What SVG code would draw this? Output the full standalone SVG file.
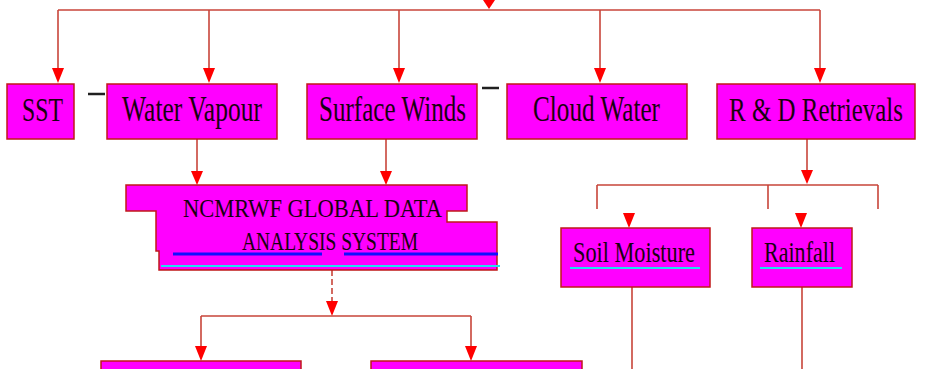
<svg xmlns="http://www.w3.org/2000/svg" width="925" height="369" viewBox="0 0 925 369">
<defs>
<style>
.box{fill:#ff00ff;stroke:#c01818;stroke-width:1.5}
.lbl{font-family:"Liberation Serif","Times New Roman",serif;fill:#1a0010;text-anchor:start}
.c{fill:none;stroke:#c8453a;stroke-width:1.6}
.ar{fill:#ff0000}
</style>
</defs>
<rect width="925" height="369" fill="#ffffff"/>
<g id="connectors">
<polygon class="ar" points="483,0 495,0 489,9"/>
<path class="c" d="M58,10 H820"/>
<path class="c" d="M58,10 V70"/><polygon class="ar" points="52,68 64,68 58,83"/>
<path class="c" d="M209,10 V70"/><polygon class="ar" points="203,68 215,68 209,83"/>
<path class="c" d="M399,10 V70"/><polygon class="ar" points="393,68 405,68 399,83"/>
<path class="c" d="M600,10 V70"/><polygon class="ar" points="594,68 606,68 600,83"/>
<path class="c" d="M820,10 V70"/><polygon class="ar" points="814,68 826,68 820,83"/>
<path class="c" d="M197,139 V172"/><polygon class="ar" points="191,171 203,171 197,185"/>
<path class="c" d="M386,139 V172"/><polygon class="ar" points="380,171 392,171 386,185"/>
<path class="c" d="M807,139 V172"/><polygon class="ar" points="801,170 813,170 807,184"/>
<path class="c" d="M597,185 H878 M597,185 V209 M768,185 V209 M878,185 V209"/>
<polygon class="ar" points="623,213 635,213 629,228"/>
<polygon class="ar" points="795,213 807,213 801,228"/>
<path class="c" d="M332,270 V304" stroke-dasharray="6,3"/>
<polygon class="ar" points="326,301 338,301 332,316"/>
<path class="c" d="M201,316 H471 M201,316 V348 M471,316 V348"/>
<polygon class="ar" points="195,346 207,346 201,361"/>
<polygon class="ar" points="465,346 477,346 471,361"/>
<path class="c" d="M632,287 V369 M802,287 V369"/>
<path d="M88,94 H105 M482,88 H499" stroke="#202020" stroke-width="2.5"/>
</g>
<g id="sst">
<rect class="box" x="7" y="84" width="67" height="55"/>
<text class="lbl" transform="translate(22,121) scale(1,1.42)" font-size="24" textLength="41" lengthAdjust="spacingAndGlyphs">SST</text>
</g>
<g id="water-vapour">
<rect class="box" x="107" y="84" width="170" height="55"/>
<text class="lbl" transform="translate(122,121) scale(1,1.42)" font-size="24.5" textLength="140" lengthAdjust="spacingAndGlyphs">Water Vapour</text>
</g>
<g id="surface-winds">
<rect class="box" x="307" y="84" width="170" height="55"/>
<text class="lbl" transform="translate(319,121) scale(1,1.42)" font-size="24.5" textLength="147" lengthAdjust="spacingAndGlyphs">Surface Winds</text>
</g>
<g id="cloud-water">
<rect class="box" x="507" y="84" width="180" height="55"/>
<text class="lbl" transform="translate(533,121) scale(1,1.42)" font-size="24.5" textLength="127" lengthAdjust="spacingAndGlyphs">Cloud Water</text>
</g>
<g id="rd-retrievals">
<rect class="box" x="717" y="84" width="198" height="55"/>
<text class="lbl" transform="translate(729,121) scale(1,1.42)" font-size="24.2" textLength="174" lengthAdjust="spacingAndGlyphs">R &amp; D Retrievals</text>
</g>
<g id="ncmrwf">
<path class="box" d="M126,185 H467 V211 H447 V222 H497 V270 H159 V251 H156 V211 H126 Z"/>
<path d="M173,254 H322 M344,254 H498" stroke="#1010ff" stroke-width="3"/>
<path d="M161,266 H500" stroke="#20e0f0" stroke-width="2"/>
<text class="lbl" transform="translate(183,217) scale(1,1.2)" font-size="21.3" textLength="259" lengthAdjust="spacingAndGlyphs">NCMRWF GLOBAL DATA</text>
<text class="lbl" transform="translate(242,250) scale(1,1.34)" font-size="19.3" textLength="176" lengthAdjust="spacingAndGlyphs">ANALYSIS SYSTEM</text>
</g>
<g id="soil-moisture">
<rect class="box" x="561" y="228" width="149" height="59"/>
<path d="M570,268 H700" stroke="#20e0f0" stroke-width="2"/>
<text class="lbl" transform="translate(573,262) scale(1,1.3)" font-size="22.3" textLength="122" lengthAdjust="spacingAndGlyphs">Soil Moisture</text>
</g>
<g id="rainfall">
<rect class="box" x="752" y="228" width="100" height="59"/>
<path d="M760,268 H842" stroke="#20e0f0" stroke-width="2"/>
<text class="lbl" transform="translate(764,262) scale(1,1.3)" font-size="22" textLength="71" lengthAdjust="spacingAndGlyphs">Rainfall</text>
</g>
<g id="bottom-left">
<rect class="box" x="101" y="361" width="200" height="20"/>
</g>
<g id="bottom-right">
<rect class="box" x="371" y="361" width="211" height="20"/>
</g>
</svg>
